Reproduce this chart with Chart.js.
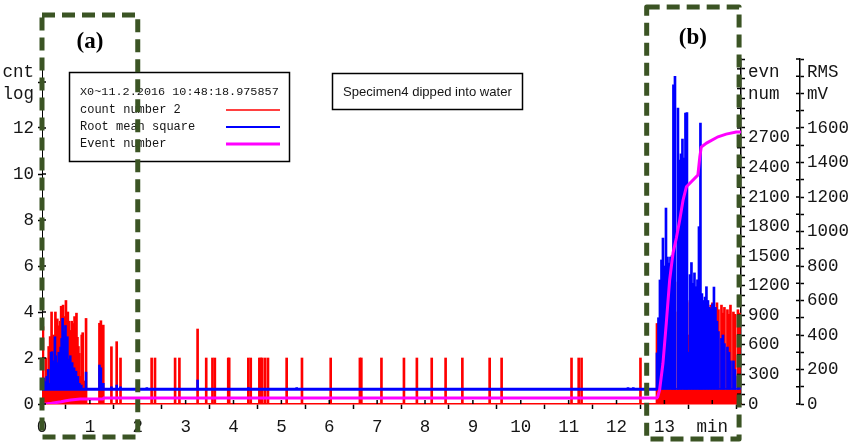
<!DOCTYPE html>
<html><head><meta charset="utf-8">
<script src="https://cdn.jsdelivr.net/npm/chart.js@4.4.1/dist/chart.umd.min.js"></script>
<style>html,body{margin:0;padding:0;background:#fff;}#wrap{width:859px;height:448px;}</style>
</head><body><div id="wrap"><canvas id="c" width="859" height="448"></canvas></div>
<script>
// ---------- DATA ----------
// count number 2 (left axis, cnt log) : time in minutes, value
const countTimes = [
  0.02,0.05,0.08,0.11,0.14,0.17,0.20,0.22,0.24,0.26,0.28,0.30,0.32,0.34,0.36,0.38,0.40,0.42,0.44,0.46,0.48,0.50,
  0.52,0.54,0.56,0.58,0.60,0.62,0.64,0.66,0.68,0.70,0.72,0.74,0.76,0.78,0.80,0.83,0.85,0.88,0.92,
  1.20,1.23,1.28,1.45,1.56,1.64,
  2.29,2.36,2.78,2.87,3.25,3.43,3.56,3.61,3.89,3.91,4.31,4.36,4.54,4.57,4.60,4.66,4.72,5.11,5.43,6.03,6.64,6.67,
  7.09,7.56,7.83,8.14,8.43,8.78,9.35,9.60,11.06,11.21,11.27,12.50,
  12.845,12.876,12.907,12.939,12.970,13.001,13.033,13.064,13.095,13.127,
  13.158,13.189,13.221,13.252,13.283,13.315,13.346,13.377,13.409,13.440,
  13.471,13.503,13.534,13.565,13.597,13.628,13.659,13.691,13.722,13.753,
  13.784,13.816,13.847,13.878,13.910,13.941,13.972,14.004,14.035,14.066,
  14.098,14.129,14.160,14.192,14.223,14.254,14.286,14.317,14.348,14.380,
  14.411,14.442,14.474,14.505,14.536,14.568
];
const countValues = [
  3.36,1.0,2.0,1.5,2.5,2.93,4.0,2.0,3.0,2.6,4.0,3.2,3.7,3.0,3.4,3.6,4.25,3.5,4.3,3.2,3.8,4.5,
  3.4,4.0,3.6,3.2,2.8,3.6,3.1,3.5,3.8,3.3,3.95,2.9,2.5,2.2,1.2,3.0,3.1,1.0,3.72,
  3.51,3.62,3.43,2.49,2.71,2.0,
  2,2,2,2,3.26,2,2,2,2,2,2,2,2,2,2,2,2,2,2,2,2,2,
  2,2,2,2,2,2,2,2,2,2,2,2,
  3.5,3.5,3.2,3.0,2.5,2.8,3.0,3.2,4.2,4.6,
  4.4,4.2,5.3,0.6,4.0,4.1,4.2,4.0,4.3,4.5,
  4.4,3.0,4.5,4.2,3.95,4.6,4.5,4.4,4.6,4.4,
  4.5,4.4,4.2,4.5,4.3,4.2,4.3,4.4,4.2,4.0,
  4.4,4.1,0.6,4.3,3.95,4.2,0.6,4.1,3.9,4.3,
  0.6,4.0,3.9,0.6,4.1,3.95
];
// Root mean square (RMS axis, mV)
const rmsFloor = 85;
const rmsFloorTimes = [0, 12.85];
const rmsTimes = [
  0.04,0.07,0.10,0.13,0.16,0.19,0.21,0.23,0.25,0.27,0.29,0.31,0.33,0.35,0.37,0.39,0.41,0.43,0.45,0.47,0.49,
  0.51,0.53,0.55,0.57,0.59,0.61,0.63,0.65,0.67,0.69,0.71,0.73,0.75,0.78,0.82,0.92,
  1.20,1.23,1.28,1.45,1.56,1.64,2.19,3.25,4.31,5.32,12.24,12.35,
  12.845,12.876,12.907,12.939,12.970,13.001,13.033,13.064,13.095,13.127,
  13.158,13.189,13.221,13.252,13.283,13.315,13.346,13.377,13.409,13.440,
  13.471,13.503,13.534,13.565,13.597,13.628,13.659,13.691,13.722,13.753,
  13.784,13.816,13.847,13.878,13.910,13.941,13.972,14.004,14.035,14.066,
  14.098,14.129,14.160,14.192,14.223,14.254,14.286,14.317,14.348,14.380,
  14.411,14.442,14.474,14.505,14.536,14.568
];
const rmsValues = [
  150,130,160,200,120,300,303,180,250,390,280,200,240,300,260,330,380,497,420,350,455,
  300,390,260,230,280,200,240,170,210,150,190,140,160,120,110,185,
  226,210,120,100,110,100,95,139,95,95,95,95,
  296,500,719,835,962,800,1136,852,817,852,
  860,1850,1900,90,1716,1414,1450,1536,1426,1687,
  1690,300,750,820,700,760,680,720,1028,1629,
  640,600,620,680,600,560,550,580,678,560,
  480,420,90,380,400,350,90,330,300,250,
  90,250,200,90,160,110
];
// Event number (evn num axis)
const evnTimes = [0,0.1,0.2,0.3,0.4,0.5,0.6,0.7,0.8,1.27,1.29,12.84,12.86,12.90,12.97,13.04,13.11,13.18,13.25,13.32,13.39,13.46,13.70,13.74,13.77,13.88,14.12,14.29,14.50,14.6];
const evnValues = [0,3,8,15,22,32,40,46,50,50,62,62,71,142,413,822,1258,1531,1684,1866,2069,2204,2323,2508,2606,2647,2711,2738,2759,2759];

// tick labels
const xTickLabels = ['0','1','2','3','4','5','6','7','8','9','10','11','12','13','min'];
const cntTickLabels = ['0','2','4','6','8','10','12'];
const evnTickLabels = ['0','300','600','900','1200','1500','1800','2100','2400','2700'];
const rmsTickLabels = ['0','200','400','600','800','1000','1200','1400','1600'];
const cntHeader = ['cnt','log'];
const evnHeader = ['evn','num'];
const rmsHeader = ['RMS','mV'];
const legendTitle = 'X0~11.2.2016 10:48:18.975857';
const seriesNames = ['count number 2','Root mean square','Event number'];
const noteText = 'Specimen4 dipped into water';
const regionA = {label:'(a)', from:0, to:2};
const regionB = {label:'(b)', from:12.63, to:14.56};

// ---------- CHART ----------
const RED='#ff0000', BLUE='#0000ff', MAG='#ff00ff', GREEN='#3b5424', INK='#151515';
const MONO='"Liberation Mono", "Courier New", monospace';
const tickFont={family:MONO,size:17.5};

const countData = countTimes.map((t,i)=>({x:t,y:countValues[i]}));
const rmsData = rmsTimes.map((t,i)=>({x:t,y:[rmsFloor,rmsValues[i]]}));
const rmsFloorData = rmsFloorTimes.map(t=>({x:t,y:rmsFloor}));
const evnData = evnTimes.map((t,i)=>({x:t,y:evnValues[i]}));

function fitY(w){return function(s){s.width=w;s.paddingTop=0;s.paddingBottom=0;};}

const innerTicks={
  id:'innerTicks',
  afterDatasetsDraw(chart){
    const c=chart.ctx,s=chart.scales;c.save();c.strokeStyle='#000';c.lineWidth=1.5;
    s.x.ticks.forEach(t=>{const p=s.x.getPixelForValue(t.value);c.beginPath();c.moveTo(p,s.x.top);c.lineTo(p,s.x.top-4);c.stroke();});
    s.yL.ticks.forEach(t=>{const p=s.yL.getPixelForValue(t.value);c.beginPath();c.moveTo(s.yL.right,p);c.lineTo(s.yL.right+4,p);c.stroke();});
    ['yE','yR'].forEach(id=>{const a=s[id];a.ticks.forEach(t=>{const p=a.getPixelForValue(t.value);c.beginPath();c.moveTo(a.left,p);c.lineTo(a.left-4,p);c.stroke();});});
    c.restore();
  }
};

function fitText(c,text,family,baseSize,width){
  c.font=baseSize+'px '+family;const w=c.measureText(text).width;
  c.font=(baseSize*width/w).toFixed(2)+'px '+family;
}

const decorations={
  id:'decorations',
  afterDraw(chart){
    const c=chart.ctx,s=chart.scales;c.save();
    // axis headers
    c.fillStyle=INK;c.textBaseline='middle';c.font='17.5px '+MONO;
    c.textAlign='right';c.fillText(cntHeader[0],s.yL.right-8,72);c.fillText(cntHeader[1],s.yL.right-8,94);
    c.textAlign='left';
    c.fillText(evnHeader[0],s.yE.left+7,72);c.fillText(evnHeader[1],s.yE.left+7,94);
    c.fillText(rmsHeader[0],s.yR.left+7,72);c.fillText(rmsHeader[1],s.yR.left+7,94);
    // legend box
    c.fillStyle='#fff';c.fillRect(69,72,221,90);
    c.strokeStyle='#000';c.lineWidth=1.5;c.strokeRect(69.5,72.5,220,89);
    c.fillStyle=INK;c.textAlign='left';
    fitText(c,legendTitle,MONO,12,199);c.fillText(legendTitle,80,92);
    c.font='12px '+MONO;
    const ys=[110,127,144],cols=[RED,BLUE,MAG],lw=[1.5,2,3];
    seriesNames.forEach((n,i)=>{
      c.fillStyle=INK;c.fillText(n,80,ys[i]);
      c.strokeStyle=cols[i];c.lineWidth=lw[i];c.beginPath();c.moveTo(226,ys[i]);c.lineTo(280,ys[i]);c.stroke();
    });
    // note box
    c.fillStyle='#fff';c.fillRect(332,73,191,37);
    c.strokeStyle='#000';c.lineWidth=1.5;c.strokeRect(332.5,73.5,190,36);
    c.fillStyle=INK;fitText(c,noteText,'"Liberation Sans", Arial, sans-serif',13,169);
    c.fillText(noteText,343,92);
    // dashed region boxes
    c.strokeStyle=GREEN;c.lineWidth=5;c.setLineDash([13,7]);c.lineJoin='round';
    const xa0=s.x.getPixelForValue(regionA.from),xa1=s.x.getPixelForValue(regionA.to);
    c.strokeRect(xa0,15,xa1-xa0,422);
    const xb0=s.x.getPixelForValue(regionB.from),xb1=s.x.getPixelForValue(regionB.to);
    c.strokeRect(xb0,7,xb1-xb0,432);
    c.setLineDash([]);
    c.fillStyle='#000';c.font='bold 23px "Liberation Serif", "Times New Roman", serif';c.textAlign='center';
    c.fillText(regionA.label,(xa0+xa1)/2,42);
    c.fillText(regionB.label,(xb0+xb1)/2,38);
    c.restore();
  }
};

new Chart(document.getElementById('c'),{
  type:'bar',
  data:{datasets:[
    {type:'line',data:evnData,yAxisID:'yE',borderColor:MAG,borderWidth:3,pointRadius:0,order:0,tension:0},
    {type:'line',data:rmsFloorData,yAxisID:'yR',borderColor:BLUE,borderWidth:3,pointRadius:0,order:1},
    {type:'bar',data:rmsData,yAxisID:'yR',backgroundColor:BLUE,barThickness:2,grouped:false,borderWidth:0,order:2},
    {type:'bar',data:countData,yAxisID:'yL',backgroundColor:RED,barThickness:2,grouped:false,borderWidth:0,order:3}
  ]},
  options:{
    responsive:false,animation:false,devicePixelRatio:1,
    layout:{padding:{top:59,left:0,right:0,bottom:0}},
    plugins:{legend:{display:false},tooltip:{enabled:false}},
    scales:{
      x:{type:'linear',min:0,max:14.6,offset:false,
        ticks:{stepSize:1,autoSkip:false,includeBounds:false,maxRotation:0,font:tickFont,color:INK,padding:8,
          callback:(v)=>xTickLabels[v]!==undefined?xTickLabels[v]:''},
        grid:{drawOnChartArea:false,tickLength:5,tickColor:'#000',tickWidth:1.5},
        border:{color:RED,width:1.5},
        afterFit(s){s.height=44;s.paddingLeft=0;s.paddingRight=0;}},
      yL:{position:'left',min:0,max:15,
        ticks:{stepSize:2,autoSkip:false,includeBounds:false,font:tickFont,color:INK,padding:4,
          callback:(v)=>{const i=v/2;return cntTickLabels[i]!==undefined?cntTickLabels[i]:'';}},
        grid:{drawOnChartArea:false,tickLength:4,tickColor:'#000',tickWidth:1.5},
        border:{color:'#000',width:1},afterFit:fitY(42)},
      yE:{position:'right',min:0,max:3500,
        ticks:{stepSize:100,autoSkip:false,font:tickFont,color:INK,padding:3,
          callback:(v)=>{if(v%300)return '';const i=v/300;return evnTickLabels[i]!==undefined?evnTickLabels[i]:'';}},
        grid:{drawOnChartArea:false,tickLength:4,tickColor:'#000',tickWidth:1.5},
        border:{color:'#000',width:1.5},afterFit:fitY(59)},
      yR:{position:'right',min:0,max:2000,
        ticks:{stepSize:100,autoSkip:false,font:tickFont,color:INK,padding:3,
          callback:(v)=>{if(v%200)return '';const i=v/200;return rmsTickLabels[i]!==undefined?rmsTickLabels[i]:'';}},
        grid:{drawOnChartArea:false,tickLength:4,tickColor:'#000',tickWidth:1.5},
        border:{color:'#000',width:1.5},afterFit:fitY(59)}
    }
  },
  plugins:[innerTicks,decorations]
});
</script></body></html>
